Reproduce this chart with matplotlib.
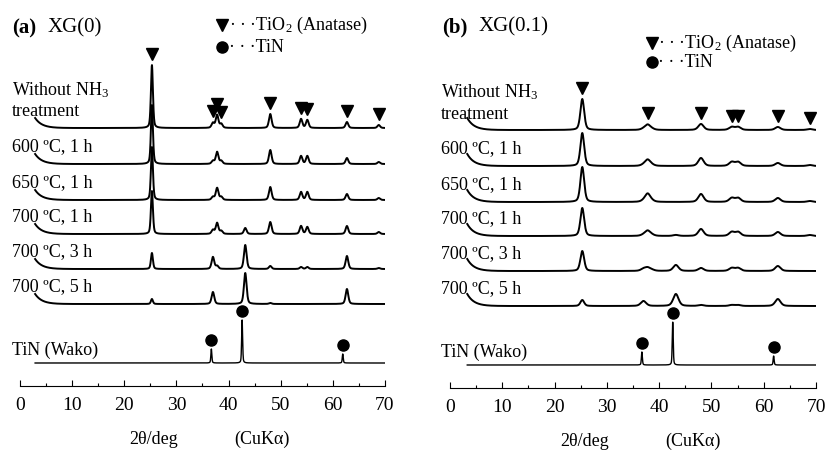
import numpy as np
import matplotlib.pyplot as plt

plt.rcParams['font.family'] = ['Liberation Serif', 'DejaVu Serif']
plt.rcParams['mathtext.fontset'] = 'custom'
plt.rcParams['mathtext.rm'] = 'Liberation Serif'
plt.rcParams['mathtext.it'] = 'Liberation Serif:italic'

# peak positions (2theta / deg) of the samples: anatase lines + TiN lines
peaks = [25.3, 37.0, 37.8, 38.6, 43.2, 48.0, 53.9, 55.1, 62.7, 68.8]
# reference TiN (Wako) lines
tin_peaks = [36.7, 42.6, 61.9]

labels = ["600 ºC, 1 h", "650 ºC, 1 h", "700 ºC, 1 h", "700 ºC, 3 h", "700 ºC, 5 h"]

# peak heights (a) XG(0), one row per pattern, top to bottom
heights_a = [
    [63, 5, 13, 4, 0, 14, 9, 8, 6, 3],   # without NH3
    [59, 3, 12, 3, 0, 14, 8, 8, 6, 2],   # 600 1h
    [53, 3, 12, 3, 0, 13, 8, 8, 6, 2],   # 650 1h
    [43, 4, 11, 3, 6, 12, 8, 7, 8, 2],   # 700 1h
    [16, 12, 3, 0, 24, 3, 2, 2, 13, 1],  # 700 3h
    [5, 12, 0, 0, 31, 1, 0, 0, 15, 0],   # 700 5h
]
# (b) XG(0.1)
heights_b = [
    [31, 1, 5, 1, 0, 6, 3, 3, 3, 1],
    [33, 1, 6, 1, 0, 8, 4, 4, 3, 1],
    [35, 1, 8, 1, 0, 8, 4, 4, 4, 1],
    [28, 1, 5, 1, 1, 7, 4, 4, 4, 1],
    [20, 2, 3, 1, 6, 3, 3, 3, 5, 0],
    [6, 5, 0, 0, 12, 1, 1, 1, 7, 0],
]
tin_heights_a = [14, 43, 9]
tin_heights_b = [13, 43, 9]

# peaks marked with triangles / circles
anatase_marks_a = [25.3, 37.0, 37.8, 38.6, 48.0, 53.9, 55.1, 62.7, 68.8]
anatase_marks_b = [25.3, 37.9, 48.0, 53.9, 55.1, 62.7, 68.8]

offsets = [258, 222, 186, 152, 117, 82]   # vertical stacking of the patterns
tin_offset = 23


def profile(x, pos, hts, w):
    y = np.zeros_like(x)
    for p, h in zip(pos, hts):
        g = np.exp(-4 * np.log(2) * ((x - p) / w) ** 2)
        l = 1 / (1 + 4 * ((x - p) / w) ** 2)
        y += h * (0.6 * g + 0.4 * l)
    return y


fig = plt.figure(figsize=(8.27, 4.51), dpi=100)

panels = [
    dict(rect=[20/827, 65/451, 365/827, 386/451], h=heights_a, tin=tin_heights_a,
         marks=anatase_marks_a, w=[0.45, 0.6], hook=10, x0=2.9, lx=-1.6,
         tag="(a)", name="XG(0)", name_x=5.2, ty=358, leg=(38.8, 361, 339)),
    dict(rect=[450/827, 63/451, 366/827, 386/451], h=heights_b, tin=tin_heights_b,
         marks=anatase_marks_b, w=[0.85, 1.2], hook=12, x0=3.3, lx=-1.7,
         tag="(b)", name="XG(0.1)", name_x=5.4, ty=361, leg=(38.6, 345, 326)),
]

for pn in panels:
    ax = fig.add_axes(pn['rect'])
    x = np.linspace(pn['x0'], 69.9, 3000)
    widths = [pn['w'][0]] + [pn['w'][1]] * (len(peaks) - 1)
    curves = []
    for i, hts in enumerate(pn['h']):
        y = np.zeros_like(x)
        for p, h, w in zip(peaks, hts, widths):
            y += profile(x, [p], [h], w)
        y += pn['hook'] * np.exp(-(x - pn['x0']) / 1.3)
        y += offsets[i]
        curves.append(y)
        ax.plot(x, y, color='black', lw=1.4)
    yt = tin_offset + profile(x, tin_peaks, pn['tin'], 0.22)
    ax.plot(x, yt, color='black', lw=1.0)

    # markers
    top = curves[0]
    for m in pn['marks']:
        sel = np.abs(x - m) < 0.3
        ax.plot(m, top[sel].max() + 11, marker='v', color='black', ms=8)
    for m in tin_peaks:
        sel = np.abs(x - m) < 0.3
        ax.plot(m, yt[sel].max() + 9, marker='o', color='black', ms=8)

    # labels
    ax.text(pn['lx'], offsets[0] + 38, "Without NH$_3$", fontsize=13, va='center')
    ax.text(pn['lx'], offsets[0] + 16, "treatment", fontsize=13, va='center')
    for i, lab in enumerate(labels):
        ax.text(pn['lx'], offsets[i + 1] + 17, lab, fontsize=13, va='center')
    ax.text(pn['lx'], tin_offset + 13, "TiN (Wako)", fontsize=13, va='center')

    # title
    ax.text(pn['lx'] + 0.1, pn['ty'], pn['tag'], fontsize=15, fontweight='bold', va='center')
    ax.text(pn['name_x'], pn['ty'], pn['name'], fontsize=15, va='center')

    # legend
    lx, ly1, ly2 = pn['leg']
    ax.plot(lx, ly1, marker='v', color='black', ms=8, clip_on=False)
    ax.plot(lx, ly2, marker='o', color='black', ms=8, clip_on=False)
    ax.text(lx + 1.2, ly1, "· · ·TiO$_2$ (Anatase)", fontsize=13, va='center')
    ax.text(lx + 1.2, ly2, "· · ·TiN", fontsize=13, va='center')

    # x label
    ax.text(25.7, -53, "2θ/deg", fontsize=13, ha='center', va='center', clip_on=False)
    ax.text(46.4, -53, "(CuKα)", fontsize=13, ha='center', va='center', clip_on=False)

    ax.set_xlim(0, 70)
    ax.set_ylim(0, 386)
    for s in ['top', 'left', 'right']:
        ax.spines[s].set_visible(False)
    ax.spines['bottom'].set_linewidth(0.8)
    ax.set_yticks([])
    ax.set_xticks(range(0, 71, 10))
    ax.set_xticks(range(5, 70, 10), minor=True)
    ax.tick_params(axis='x', which='major', direction='in', length=4, width=0.8,
                   labelsize=14, pad=8)
    ax.tick_params(axis='x', which='minor', direction='in', length=2.5, width=0.8)
    ax.patch.set_alpha(0)

fig.savefig('out.png', dpi=100)
